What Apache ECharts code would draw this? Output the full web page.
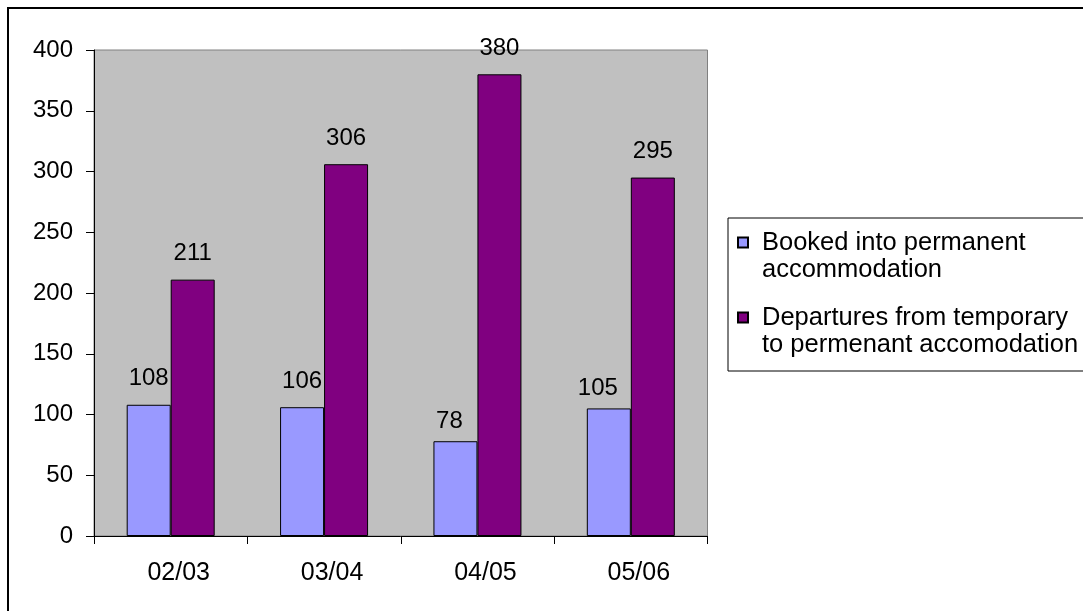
<!DOCTYPE html>
<html>
<head>
<meta charset="utf-8">
<title>Permanent accommodation</title>
<script src="https://cdn.jsdelivr.net/npm/echarts@6/dist/echarts.min.js"></script>
<style>
  html, body { margin: 0; padding: 0; background: #fff; }
  #chart { width: 1083px; height: 611px; }
</style>
</head>
<body>
<div id="chart"></div>
<script>
// Years shown along the bottom axis
const years = ['02/03', '03/04', '04/05', '05/06'];

// Series names (wrapped as in the legend)
const bookedName = 'Booked into permanent\naccommodation';
const departName = 'Departures from temporary\nto permenant accomodation';

// Series values
const booked = [108, 106, 78, 105];
const departures = [211, 306, 380, 295];

// Value axis range
const yMin = 0;
const yMax = 400;
const yStep = 50;

const FONT = '"Liberation Sans", Arial, sans-serif';

const chart = echarts.init(document.getElementById('chart'), null, { renderer: 'canvas' });

const labelStyle = {
  show: true,
  position: 'top',
  distance: 14,
  color: '#000',
  fontFamily: FONT,
  fontSize: 24
};

// a couple of value labels sit slightly lower/left of their bar
const bookedLabelNudge = { 2: [-6, 6], 3: [-11, 6] };

function withLabels(values, nudges) {
  return values.map((v, i) => nudges[i]
    ? { value: v, label: { offset: nudges[i] } }
    : v);
}

chart.setOption({
  backgroundColor: '#fff',
  animation: false,
  graphic: [{
    // outer chart frame (runs off the right and bottom edges)
    type: 'rect',
    silent: true,
    shape: { x: 8, y: 8, width: 1200, height: 800 },
    style: { fill: 'none', stroke: '#000', lineWidth: 2 }
  }],
  grid: {
    left: 94,
    top: 50,
    right: 375.5,
    bottom: 75,
    show: true,
    backgroundColor: '#C0C0C0',
    borderColor: '#808080',
    borderWidth: 1
  },
  legend: {
    orient: 'vertical',
    left: 728,
    top: 218,
    padding: [10, 40, 12, 9],
    itemGap: 19,
    itemWidth: 10,
    itemHeight: 54,
    // square marker aligned with the first text line
    icon: 'path://M0,0M0,54M0,8.5h10v10h-10z',
    borderColor: '#000',
    borderWidth: 1,
    backgroundColor: '#fff',
    selectedMode: false,
    textStyle: {
      color: '#000',
      fontFamily: FONT,
      fontSize: 25.5,
      lineHeight: 27,
      padding: [0, 0, 0, 9]
    },
    data: [bookedName, departName]
  },
  xAxis: {
    type: 'category',
    data: years,
    axisLine: { show: true, lineStyle: { color: '#000', width: 1 } },
    axisTick: { show: true, length: 8, inside: false, lineStyle: { color: '#000' } },
    axisLabel: {
      color: '#000',
      fontFamily: FONT,
      fontSize: 25,
      margin: 25,
      padding: [0, 0, 0, 16]
    },
    splitLine: { show: false }
  },
  yAxis: {
    type: 'value',
    min: yMin,
    max: yMax,
    interval: yStep,
    axisLine: { show: true, lineStyle: { color: '#000', width: 1 } },
    axisTick: { show: true, length: 8, inside: false, lineStyle: { color: '#000' } },
    axisLabel: {
      color: '#000',
      fontFamily: FONT,
      fontSize: 24,
      margin: 21
    },
    splitLine: { show: false }
  },
  series: [
    {
      name: bookedName,
      type: 'bar',
      data: withLabels(booked, bookedLabelNudge),
      barWidth: 44,
      barGap: '0%',
      itemStyle: { color: '#9999FF', borderColor: '#000', borderWidth: 1 },
      label: labelStyle
    },
    {
      name: departName,
      type: 'bar',
      data: departures,
      barWidth: 44,
      barGap: '0%',
      itemStyle: { color: '#800080', borderColor: '#000', borderWidth: 1 },
      label: labelStyle
    }
  ]
});
</script>
</body>
</html>
